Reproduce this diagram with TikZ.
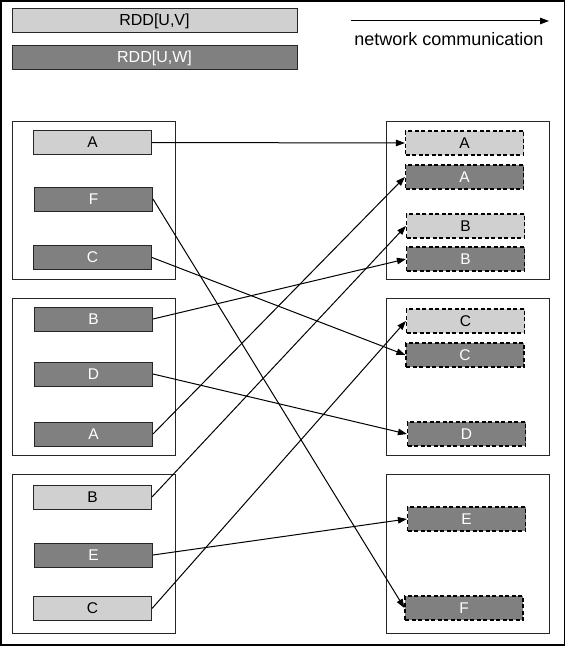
\documentclass[tikz,border=0pt]{standalone}
\usepackage{fontspec}
\setmainfont{Liberation Sans}
\usetikzlibrary{arrows.meta}
\definecolor{lightbox}{RGB}{208,208,208}
\definecolor{darkbox}{RGB}{128,128,128}
\tikzset{
  nd/.style={draw=black!85, line width=1pt, minimum width=118pt, minimum height=24pt, inner sep=0pt, font=\fontsize{15.5}{17}\selectfont},
  lt/.style={nd, fill=lightbox, text=black},
  dk/.style={nd, fill=darkbox, text=white},
  dsh/.style={dash pattern=on 4pt off 2.5pt, draw=black, line width=1.2pt},
  grp/.style={draw=black!85, line width=0.9pt, fill=white},
  leg/.style={draw=black!85, line width=1pt, minimum width=285pt, minimum height=24pt, inner sep=0pt, font=\fontsize{16}{18}\selectfont},
  conn/.style={-{Triangle[length=9pt,width=6.5pt]}, line width=1pt, black},
}
\begin{document}
\begin{tikzpicture}[x=1pt,y=-1pt]
\useasboundingbox (0,0) rectangle (566,647);
\fill[white] (0,0) rectangle (566,647);
\draw[line width=1.5pt] (1,1) rectangle (564.5,645);
% legend
\node[leg, fill=lightbox, text=black] (legV) at (154.5,21) {RDD[U,V]};
\node[leg, fill=darkbox, text=white] (legW) at (154.5,58) {RDD[U,W]};
\coordinate (la) at (351,21);
\coordinate (lb) at (549,21);
\draw[conn] (la) -- (lb);
\node[font=\fontsize{18}{20}\selectfont, anchor=base] (legT) at (449,46) {network communication};
% groups
\draw[grp] (12,121) rectangle (175,279);
\draw[grp] (12,298) rectangle (175,455);
\draw[grp] (12,474) rectangle (175,633);
\draw[grp] (386,121) rectangle (549,279);
\draw[grp] (386,298) rectangle (549,455);
\draw[grp] (386,474) rectangle (549,633);
% left nodes
\node[lt] (lA1) at (92.5,142.5) {A};
\node[dk] (lF1) at (93.5,199) {F};
\node[dk] (lC1) at (92.5,257.5) {C};
\node[dk] (lB2) at (93.5,319) {B};
\node[dk] (lD2) at (93.5,374) {D};
\node[dk] (lA2) at (93.5,434) {A};
\node[lt] (lB3) at (92.5,497) {B};
\node[dk] (lE3) at (93.5,555) {E};
\node[lt] (lC3) at (92.5,608.5) {C};
% right nodes
\node[lt, dsh] (rAl) at (464.5,143) {A};
\node[dk, dsh] (rAd) at (464.5,177) {A};
\node[lt, dsh] (rBl) at (465.5,226) {B};
\node[dk, dsh] (rBd) at (465.5,259) {B};
\node[lt, dsh] (rCl) at (465.5,321) {C};
\node[dk, dsh] (rCd) at (465,355) {C};
\node[dk, dsh] (rDd) at (466.5,434) {D};
\node[dk, dsh] (rEd) at (466.5,519) {E};
\node[dk, dsh] (rFd) at (464,608) {F};
% connectors
\draw[conn] (lA1.east) -- (rAl.west);
\draw[conn] (lF1.east) -- (rFd.west);
\draw[conn] (lC1.east) -- (rCd.west);
\draw[conn] (lB2.east) -- (rBd.west);
\draw[conn] (lD2.east) -- (rDd.west);
\draw[conn] (lA2.east) -- (rAd.west);
\draw[conn] (lB3.east) -- (rBl.west);
\draw[conn] (lE3.east) -- (rEd.west);
\draw[conn] (lC3.east) -- (rCl.west);
\end{tikzpicture}
\end{document}
